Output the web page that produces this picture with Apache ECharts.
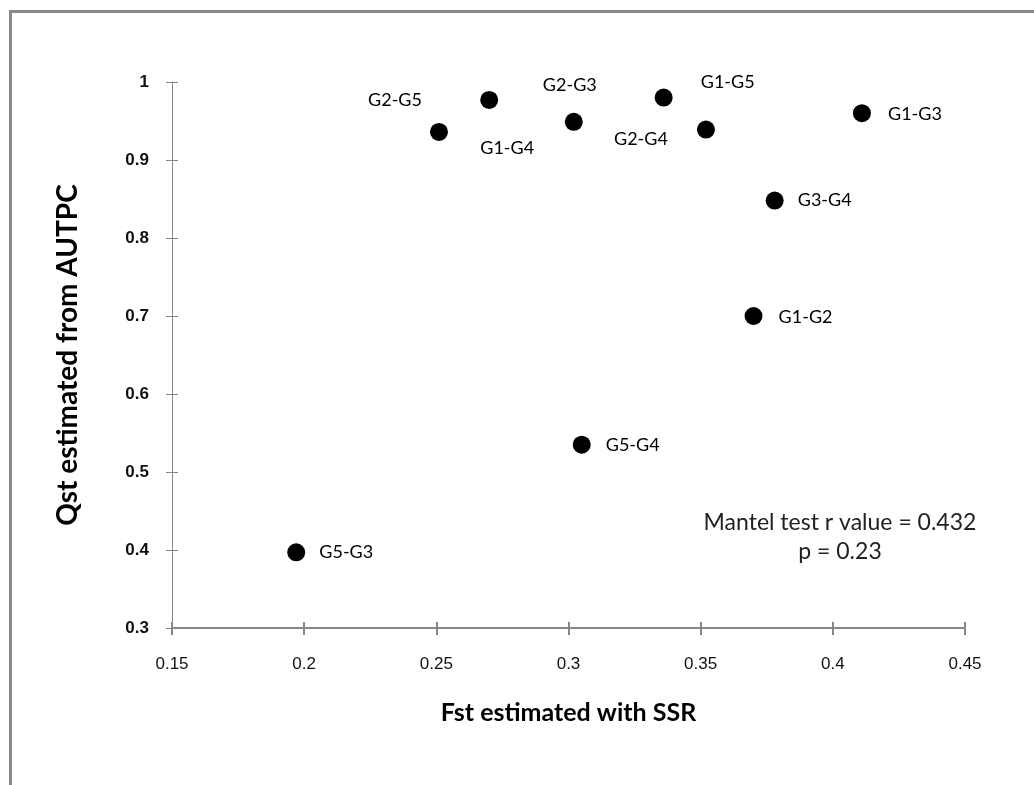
<!DOCTYPE html>
<html>
<head>
<meta charset="utf-8">
<script src="https://cdn.jsdelivr.net/npm/echarts@6/dist/echarts.min.js"></script>
<style>html,body{margin:0;padding:0;background:#fff}#c{width:1034px;height:785px}</style>
</head>
<body>
<div id="c"></div>
<script>
// ---- data ----
var pairNames = ['G5-G3','G2-G5','G1-G4','G2-G3','G5-G4','G1-G5','G2-G4','G3-G4','G1-G2','G1-G3'];
var fstValues = [0.197, 0.251, 0.270, 0.302, 0.305, 0.336, 0.352, 0.378, 0.370, 0.411];
var qstValues = [0.397, 0.936, 0.977, 0.949, 0.535, 0.980, 0.939, 0.848, 0.700, 0.960];
var xTicks = [0.15, 0.2, 0.25, 0.3, 0.35, 0.4, 0.45];
var yTicks = [0.3, 0.4, 0.5, 0.6, 0.7, 0.8, 0.9, 1];
var xTitle = 'Fst estimated with SSR';
var yTitle = 'Qst estimated from AUTPC';
var noteLines = ['Mantel test r value = 0.432', 'p = 0.23'];

// ---- label placement (pixel offsets from marker centre) ----
var labelOffsets = {
  'G5-G3': [50, 0], 'G2-G5': [-44, -32], 'G1-G4': [18, 48], 'G2-G3': [-4, -37],
  'G5-G4': [51, 0], 'G1-G5': [64, -15], 'G2-G4': [-65, 10], 'G3-G4': [50, 0],
  'G1-G2': [52, 1], 'G1-G3': [53, 1]
};

var points = pairNames.map(function (n, i) {
  return {
    name: n,
    value: [fstValues[i], qstValues[i]],
    label: { offset: labelOffsets[n] }
  };
});

var numFont = '"Liberation Sans",Arial,sans-serif';
var titleFont = 'Lato,"Open Sans",sans-serif';

var chart = echarts.init(document.getElementById('c'), null, { renderer: 'canvas' });
chart.setOption({
  animation: false,
  backgroundColor: '#fff',
  grid: { left: 172, right: 69, top: 82, bottom: 157 },
  xAxis: [{
    type: 'value', min: 0.15, max: 0.45, interval: 0.05, position: 'bottom',
    splitLine: { show: false },
    axisLine: { show: true, lineStyle: { color: '#878787', width: 2 } },
    axisTick: { show: true, length: 7, lineStyle: { color: '#878787', width: 2 } },
    axisLabel: { margin: 28, fontFamily: numFont, fontSize: 17, color: '#111',
      formatter: function (v) { return String(+v.toFixed(2)); } },
    name: xTitle, nameLocation: 'middle', nameGap: 72,
    nameTextStyle: { fontFamily: titleFont, fontWeight: 'bold', fontSize: 25, color: '#000' }
  }, {
    type: 'value', min: 0.15, max: 0.45, interval: 0.05, position: 'bottom', offset: 0,
    splitLine: { show: false },
    axisLine: { show: false },
    axisTick: { show: true, inside: true, length: 6, lineStyle: { color: '#878787', width: 2 } },
    axisLabel: { show: false }
  }],
  yAxis: [{
    type: 'value', min: 0.3, max: 1, interval: 0.1, position: 'left',
    splitLine: { show: false },
    axisLine: { show: true, lineStyle: { color: '#878787', width: 1 } },
    axisTick: { show: true, length: 6, lineStyle: { color: '#878787', width: 1 } },
    axisLabel: { margin: 23, fontFamily: numFont, fontWeight: 'bold', fontSize: 17, color: '#111',
      formatter: function (v) { return String(+v.toFixed(1)); } },
    name: yTitle, nameLocation: 'middle', nameGap: 90, nameRotate: 90,
    nameTextStyle: { fontFamily: titleFont, fontWeight: 'bold', fontSize: 28, color: '#000' }
  }, {
    type: 'value', min: 0.3, max: 1, interval: 0.1, position: 'left', offset: 0,
    splitLine: { show: false },
    axisLine: { show: false },
    axisTick: { show: true, inside: true, length: 6, lineStyle: { color: '#878787', width: 1 } },
    axisLabel: { show: false }
  }],
  series: [{
    type: 'scatter',
    xAxisIndex: 0, yAxisIndex: 0,
    symbol: 'circle', symbolSize: 18,
    itemStyle: { color: '#000', opacity: 1 },
    emphasis: { disabled: true },
    label: {
      show: true, position: 'inside', align: 'center', verticalAlign: 'middle',
      formatter: '{b}', fontFamily: titleFont, fontSize: 18, color: '#000'
    },
    data: points
  }],
  graphic: [{
    type: 'rect', silent: true, z: -1,
    shape: { x: 10.5, y: 11.5, width: 1200, height: 1000 },
    style: { fill: null, stroke: '#888', lineWidth: 3 }
  }, {
    type: 'text', left: 695, top: 508,
    style: { text: noteLines.join('\n'), width: 290, align: 'center', textAlign: 'center',
      font: '23px ' + titleFont, fill: '#222', lineHeight: 29 }
  }]
});
</script>
</body>
</html>
